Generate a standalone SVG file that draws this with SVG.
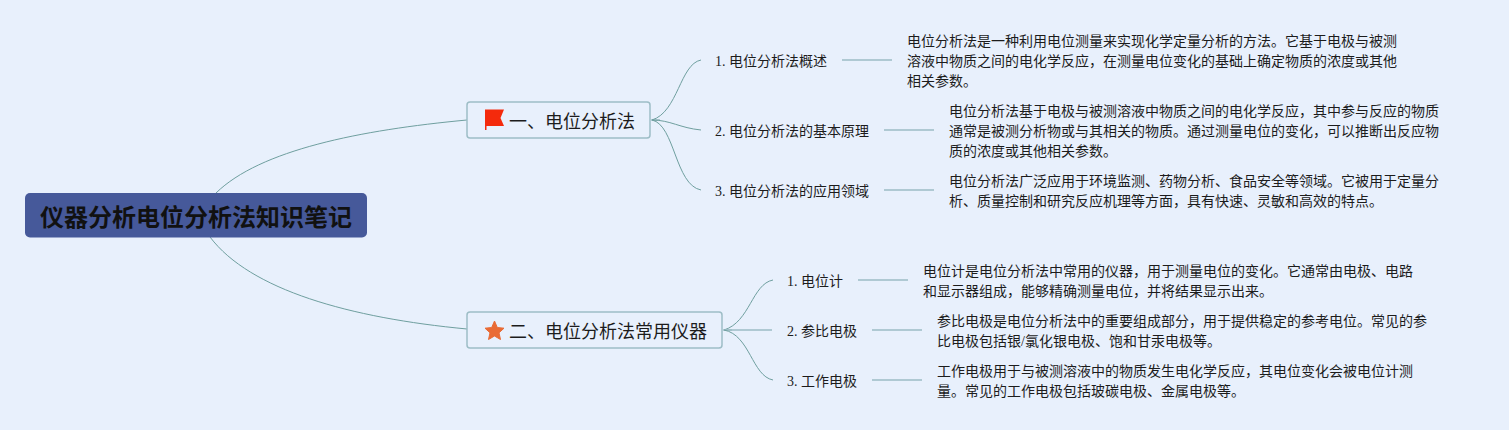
<svg xmlns="http://www.w3.org/2000/svg" width="1509" height="430" viewBox="0 0 1509 430">
<style>
text{font-family:"Liberation Serif","Noto Sans CJK SC",serif;fill:#1c1c1c}
.d{font-size:14px}
.s{font-size:14px}
.m{font-size:18px}
.r{font-size:24px;font-weight:700;fill:#111}
.b{fill:#e8f0fc;stroke:#9dbdc6;stroke-width:1.5}
.c{fill:none;stroke:#6f9f9f;stroke-width:1}
.l{fill:none;stroke:#9dbdc6;stroke-width:1.5}
</style>
<rect width="1509" height="430" fill="#e8f0fc"/>
<g id="connectors">
<path class="c" d="M216 193C260 150 360 130 467 120"/>
<path class="c" d="M210 237C250 290 350 318 467 329"/>
<path class="l" d="M651 120H660"/>
<path class="c" d="M652 120C678 112 680 64 701 60"/>
<path class="c" d="M652 120C670 120 680 128 701 130"/>
<path class="c" d="M652 120C675 125 675 185 701 190"/>
<path class="l" d="M723 330H732"/>
<path class="c" d="M724 330C750 322 752 284 773 280"/>
<path class="l" d="M724 330H772"/>
<path class="c" d="M724 330C750 335 752 376 773 380"/>
<path class="l" d="M842 60H892"/><path class="l" d="M884 130H934"/><path class="l" d="M884 190H934"/>
<path class="l" d="M858 280H908"/><path class="l" d="M872 330H922"/><path class="l" d="M872 380H922"/>
</g>
<g id="root"><rect x="25" y="193" width="342" height="44.500" rx="5" fill="#46599a"/><text class="r" x="40" y="226">仪器分析电位分析法知识笔记</text></g>
<g id="n1"><rect class="b" x="467" y="102" width="183" height="36" rx="3"/>
<path d="M485 109.500H504L500.500 118L504 126H486.500V130H485Z" fill="#f42a0c"/>
<text class="m" x="509" y="128">一、电位分析法</text></g>
<g id="n2"><rect class="b" x="467" y="312" width="255" height="36" rx="3"/>
<path d="M494.500 321L497.300 327.500L504 328.200L499 332.800L500.500 339.500L494.500 336L488.500 339.500L490 332.800L485 328.200L491.700 327.500Z" fill="#e96b35" stroke="#e96b35" stroke-linejoin="round"/>
<text class="m" x="509" y="338">二、电位分析法常用仪器</text></g>
<g id="n1-1"><text class="s" x="715" y="66">1. 电位分析法概述</text></g>
<g id="n1-2"><text class="s" x="715" y="136">2. 电位分析法的基本原理</text></g>
<g id="n1-3"><text class="s" x="715" y="196">3. 电位分析法的应用领域</text></g>
<g id="n2-1"><text class="s" x="787" y="286">1. 电位计</text></g>
<g id="n2-2"><text class="s" x="787" y="336">2. 参比电极</text></g>
<g id="n2-3"><text class="s" x="787" y="386">3. 工作电极</text></g>
<g id="d1-1"><text class="d" x="907" y="46">电位分析法是一种利用电位测量来实现化学定量分析的方法。它基于电极与被测</text><text class="d" x="907" y="66">溶液中物质之间的电化学反应，在测量电位变化的基础上确定物质的浓度或其他</text><text class="d" x="907" y="86">相关参数。</text></g>
<g id="d1-2"><text class="d" x="949" y="116">电位分析法基于电极与被测溶液中物质之间的电化学反应，其中参与反应的物质</text><text class="d" x="949" y="136">通常是被测分析物或与其相关的物质。通过测量电位的变化，可以推断出反应物</text><text class="d" x="949" y="156">质的浓度或其他相关参数。</text></g>
<g id="d1-3"><text class="d" x="949" y="186">电位分析法广泛应用于环境监测、药物分析、食品安全等领域。它被用于定量分</text><text class="d" x="949" y="206">析、质量控制和研究反应机理等方面，具有快速、灵敏和高效的特点。</text></g>
<g id="d2-1"><text class="d" x="923" y="276">电位计是电位分析法中常用的仪器，用于测量电位的变化。它通常由电极、电路</text><text class="d" x="923" y="296">和显示器组成，能够精确测量电位，并将结果显示出来。</text></g>
<g id="d2-2"><text class="d" x="937" y="326">参比电极是电位分析法中的重要组成部分，用于提供稳定的参考电位。常见的参</text><text class="d" x="937" y="346">比电极包括银/氯化银电极、饱和甘汞电极等。</text></g>
<g id="d2-3"><text class="d" x="937" y="376">工作电极用于与被测溶液中的物质发生电化学反应，其电位变化会被电位计测</text><text class="d" x="937" y="396">量。常见的工作电极包括玻碳电极、金属电极等。</text></g>
</svg>
